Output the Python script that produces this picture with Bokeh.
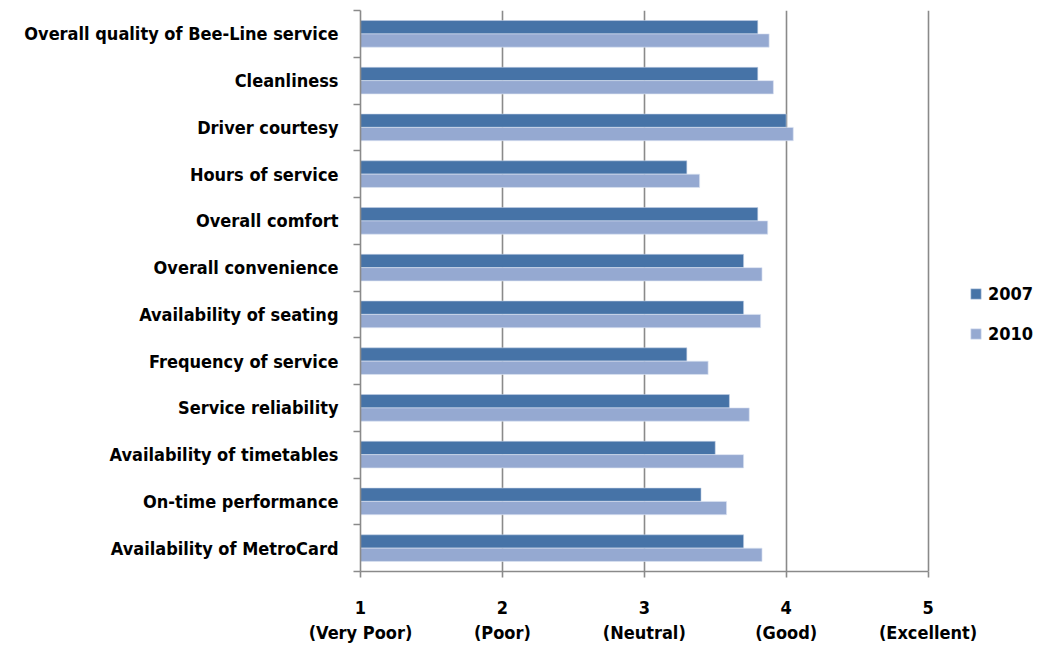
from bokeh.plotting import figure
from bokeh.models import (Range1d, FixedTicker, Legend, LegendItem,
                          ColumnDataSource)
from bokeh.embed import file_html
from bokeh.resources import INLINE

# Survey attributes, top to bottom
categories = [
    "Overall quality of Bee-Line service",
    "Cleanliness",
    "Driver courtesy",
    "Hours of service",
    "Overall comfort",
    "Overall convenience",
    "Availability of seating",
    "Frequency of service",
    "Service reliability",
    "Availability of timetables",
    "On-time performance",
    "Availability of MetroCard",
]
score_2007 = [3.80, 3.80, 4.00, 3.30, 3.80, 3.70, 3.70, 3.30, 3.60, 3.50, 3.40, 3.70]
score_2010 = [3.88, 3.91, 4.05, 3.39, 3.87, 3.83, 3.82, 3.45, 3.74, 3.70, 3.58, 3.83]
series_names = ["2007", "2010"]
scale_ticks = [1, 2, 3, 4, 5]
scale_labels = ["1\n(Very Poor)", "2\n(Poor)", "3\n(Neutral)", "4\n(Good)", "5\n(Excellent)"]

FONT = "DejaVu Sans Condensed"
DARK = "#4673A7"
LIGHT = "#95A9D1"
GRID = "#8a8a8a"

n = len(categories)
centers = [n - 0.5 - i for i in range(n)]
bar_h = 0.285

src = ColumnDataSource(dict(
    cat=categories,
    y07=[c + bar_h / 2 for c in centers],
    y10=[c - bar_h / 2 for c in centers],
    v07=score_2007,
    v10=score_2010,
))

# the frame runs on past 5 to leave room for the legend; axis and grid stop at 5
p = figure(width=1051, height=650, x_range=Range1d(1, 5.87), y_range=Range1d(0, n),
           output_backend="svg", toolbar_location=None,
           min_border_left=360, min_border_right=0,
           min_border_top=10, min_border_bottom=79)
p.outline_line_color = None
p.background_fill_color = "white"
p.border_fill_color = "white"

r07 = p.hbar(y="y07", left=1, right="v07", height=bar_h, source=src,
             fill_color=DARK, line_color="#c6d2e6", line_width=0.8, line_alpha=0.7)
r10 = p.hbar(y="y10", left=1, right="v10", height=bar_h, source=src,
             fill_color=LIGHT, line_color="#dde5f2", line_width=0.8, line_alpha=0.8)

# vertical gridlines only
p.ygrid.grid_line_color = None
p.xgrid.ticker = FixedTicker(ticks=scale_ticks)
p.xgrid.grid_line_color = GRID
p.xgrid.grid_line_width = 1.6

# x axis: score scale
xa = p.xaxis[0]
xa.bounds = (scale_ticks[0], scale_ticks[-1])
xa.ticker = FixedTicker(ticks=scale_ticks)
xa.major_label_overrides = {t: lab for t, lab in zip(scale_ticks, scale_labels)}
xa.axis_line_color = GRID
xa.axis_line_width = 1.6
xa.major_tick_line_color = GRID
xa.major_tick_line_width = 1.6
xa.major_tick_in = 0
xa.major_tick_out = 6
xa.minor_tick_line_color = None
xa.major_label_standoff = 19
xa.major_label_text_font = FONT
xa.major_label_text_font_style = "bold"
xa.major_label_text_font_size = "18px"
xa.major_label_text_color = "black"

# y axis: labels at bar-group centres, ticks on group boundaries
ya = p.yaxis[0]
ya.ticker = FixedTicker(ticks=centers, minor_ticks=list(range(n + 1)))
ya.major_label_overrides = {c: lab for c, lab in zip(centers, categories)}
ya.axis_line_color = GRID
ya.axis_line_width = 1.6
ya.major_tick_line_color = None
ya.major_tick_in = 0
ya.major_tick_out = 0
ya.minor_tick_line_color = GRID
ya.minor_tick_line_width = 1.6
ya.minor_tick_in = 0
ya.minor_tick_out = 7
ya.major_label_standoff = 15
ya.major_label_text_font = FONT
ya.major_label_text_font_style = "bold"
ya.major_label_text_font_size = "18px"
ya.major_label_text_color = "black"

legend = Legend(items=[LegendItem(label=series_names[0], renderers=[r07]),
                       LegendItem(label=series_names[1], renderers=[r10])],
                location=(609, 227), padding=0, margin=0, spacing=19,
                glyph_width=13, glyph_height=13, label_standoff=6,
                border_line_color=None, background_fill_alpha=0,
                label_text_font=FONT, label_text_font_style="bold",
                label_text_font_size="18px", label_text_color="black")
p.add_layout(legend, "center")

open("out.html", "w").write(file_html(p, INLINE))
